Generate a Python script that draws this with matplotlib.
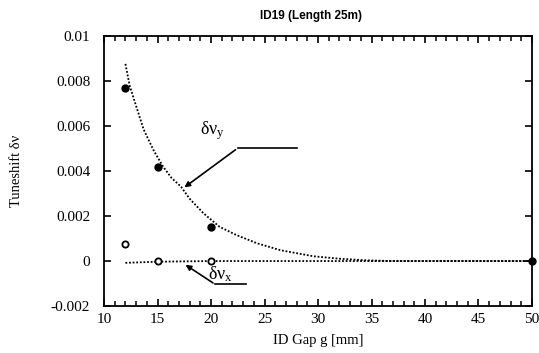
import matplotlib
matplotlib.use('Agg')
import matplotlib.pyplot as plt
from matplotlib.ticker import MultipleLocator, FuncFormatter

plt.rcParams['font.family'] = ['Liberation Serif', 'DejaVu Serif']
plt.rcParams['mathtext.fontset'] = 'stix'
plt.rcParams['axes.unicode_minus'] = False

# measured tune shifts
gap_meas = [12, 15, 20, 50]
dvy_meas = [0.0077, 0.0042, 0.0015, 0.0]
gap_meas_x = [12, 15, 20]
dvx_meas = [0.00077, 0.0, 0.0]

# calculated curves
gap_calc_y = [12.0, 12.4, 13.1, 13.7, 14.6, 15.5, 16.3, 17.2, 18.0, 19.3, 20.8, 22.4, 24.3, 26.5,
              29.6, 32.1, 34.6, 37.0, 50.0]
dvy_calc = [0.00876, 0.00779, 0.00674, 0.00585, 0.00495, 0.00421, 0.0037, 0.0033, 0.00277, 0.00212,
            0.00152, 0.00115, 0.00079, 0.00048, 0.00021, 0.0001, 0.00003, 0.0, 0.0]
gap_calc_x = [12, 15, 20, 30, 50]
dvx_calc = [-0.00008, -0.00003, 0.0, 0.0, 0.0]

fig = plt.figure(figsize=(5.39, 3.53), dpi=100)
ax = fig.add_axes([0.193, 0.133, 0.794, 0.765])

ax.plot(gap_calc_y, dvy_calc, color='black', lw=1.3, linestyle=(0, (1, 1)))
ax.plot(gap_calc_x, dvx_calc, color='black', lw=1.3, linestyle=(0, (1, 1)))
ax.plot(gap_meas, dvy_meas, 'o', color='black', ms=5, clip_on=False, zorder=5)
ax.plot(gap_meas_x, dvx_meas, 'o', mfc='white', mec='black', mew=1.3, ms=4.5, zorder=5)

ax.set_xlim(10, 50)
ax.set_ylim(-0.002, 0.01)
ax.xaxis.set_major_locator(MultipleLocator(5))
ax.xaxis.set_minor_locator(MultipleLocator(1))
ax.yaxis.set_major_locator(MultipleLocator(0.002))
ax.yaxis.set_major_formatter(FuncFormatter(lambda v, p: '%g' % round(v, 4)))
ax.tick_params(which='both', direction='in', top=True, right=True, labelsize=11)
ax.tick_params(which='major', length=5, width=1.2)
ax.tick_params(axis='x', which='minor', length=3.5, width=1.1, top=True, bottom=True)
ax.tick_params(axis='x', pad=5)
ax.tick_params(axis='y', pad=10)
for s in ax.spines.values():
    s.set_linewidth(1.3)

ax.set_xlabel('ID Gap g [mm]', fontsize=10.5, labelpad=6)
ax.set_ylabel('Tuneshift δν', fontsize=10.5, labelpad=20)
fig.text(0.577, 0.955, 'ID19 (Length 25m)', fontsize=8.5, fontweight='bold',
         family='Liberation Sans', ha='center', va='center')

# leader lines with arrows
ax.annotate('', xy=(17.3, 0.0032), xytext=(22.5, 0.00502),
            arrowprops=dict(arrowstyle='-|>', color='black', lw=1.2, mutation_scale=8))
ax.plot([22.5, 28.0], [0.00502, 0.00502], color='black', lw=1.2)
ax.text(20.1, 0.0058, r'δν$_\mathregular{y}$', fontsize=13, ha='center', va='center')

ax.annotate('', xy=(17.4, -0.0001), xytext=(20.4, -0.00104),
            arrowprops=dict(arrowstyle='-|>', color='black', lw=1.2, mutation_scale=8))
ax.plot([20.4, 23.3], [-0.00104, -0.00104], color='black', lw=1.2)
ax.text(20.9, -0.00058, r'δν$_\mathregular{x}$', fontsize=13, ha='center', va='center')

fig.savefig('out.png', dpi=100)
